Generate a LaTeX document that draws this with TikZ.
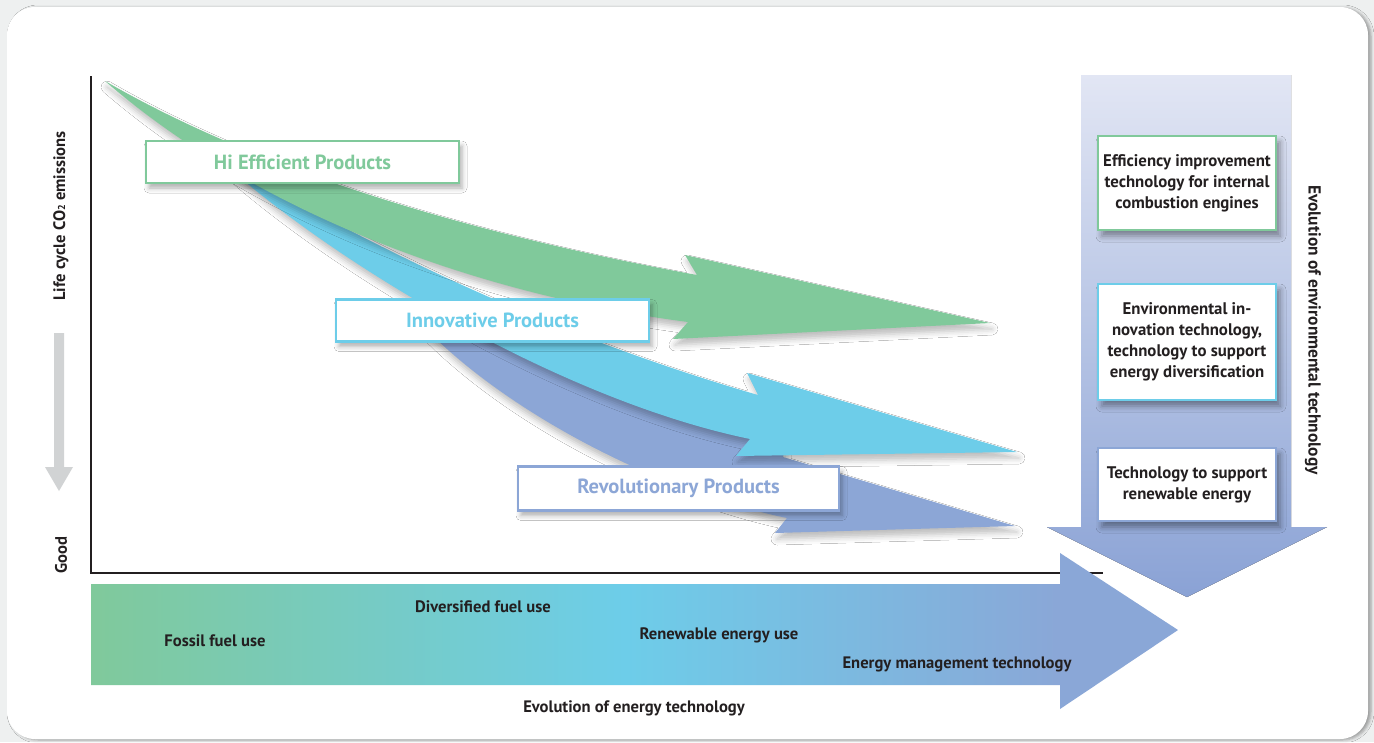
\documentclass[tikz,border=0pt]{standalone}
\usepackage{fontspec}
\setmainfont{PT Sans}
\usetikzlibrary{shadows.blur}

\definecolor{grn}{RGB}{128,201,155}
\definecolor{cyn}{RGB}{109,205,233}
\definecolor{prp}{RGB}{140,166,214}
\definecolor{headblue}{RGB}{138,167,215}
\definecolor{ink}{RGB}{35,31,32}
\definecolor{pagegray}{RGB}{238,240,240}
\definecolor{hintgray}{RGB}{209,211,212}
\definecolor{colTop}{RGB}{226,230,244}
\definecolor{colBot}{RGB}{138,162,213}

% left-to-right colour run of the energy arrow (25bp..75bp spans the path)
\pgfdeclarehorizontalshading{energyflow}{100bp}{%
  color(0bp)=(grn); color(25bp)=(grn); color(49.5bp)=(cyn);
  color(69.5bp)=(headblue); color(100bp)=(headblue)}

\tikzset{
  prodbox/.style={draw=#1, line width=2.5pt, fill=white, text=#1,
    font=\bfseries\fontsize{20.5}{23}\selectfont,
    minimum width=313pt, minimum height=42pt, inner sep=0pt,
    blur shadow={shadow xshift=3pt, shadow yshift=-5pt,
      shadow blur radius=5pt, shadow opacity=32}},
  techbox/.style={draw=#1, line width=2pt, fill=white, text=ink,
    align=center, font=\bfseries\fontsize{16.8}{21}\selectfont,
    minimum width=178pt, inner sep=0pt,
    blur shadow={shadow xshift=4pt, shadow yshift=-6pt,
      shadow blur radius=6pt, shadow opacity=40}},
  lbl/.style={text=ink, font=\bfseries\fontsize{16.6}{19}\selectfont, inner sep=0pt},
  band/.style={blur shadow={shadow xshift=2pt, shadow yshift=-6pt,
      shadow blur radius=6pt, shadow opacity=26}},
}

\begin{document}
\begin{tikzpicture}[x=1pt,y=-1pt]
\useasboundingbox (0,0) rectangle (1374,742);

% page and card
\fill[pagegray] (0,0) rectangle (1374,742);
\fill[white, rounded corners=28pt,
  blur shadow={shadow xshift=3pt, shadow yshift=-1pt,
    shadow blur radius=3pt, shadow opacity=35}]
  (7,7) rectangle (1368,739);

% axes
\draw[ink, line width=2.5pt] (91,76) -- (91,573) -- (1103,573);

% "better" hint arrow on the left
\fill[hintgray] (54,333) -- (64,333) -- (64,467) -- (73,467) -- (59,491)
  -- (45,467) -- (54,467) -- cycle;

% product bands (back to front)
\fill[prp, band]
  (400,300) .. controls (480,330) and (640,390) .. (783,440)
  -- (783,457) -- (1015,526) -- (775,533) -- (787,518)
  .. controls (650,490) and (480,400) .. cycle;
\fill[cyn, band]
  (220,160) .. controls (320,215) and (500,320) .. (758,395)
  -- (747,373) -- (1017,452) -- (736,456) -- (750,439)
  .. controls (560,400) and (330,260) .. cycle;
\fill[grn, band]
  (105,81) .. controls (250,165) and (450,230) .. (697,275)
  -- (685,255) -- (990,323) -- (673,339) -- (688,322)
  .. controls (480,295) and (260,215) .. cycle;

% product labels
\node[prodbox=grn] (hieff) at (302.5,162) {Hi Efficient Products};
\node[prodbox=cyn] (innov) at (492.5,320.5) {Innovative Products};
\node[prodbox=prp, minimum width=321pt, minimum height=44pt] (revol)
  at (678.5,488.5) {Revolutionary Products};

% environmental technology column
\fill[top color=colTop, bottom color=colBot]
  (1081,75) -- (1291,75) -- (1291,527) -- (1327,527) -- (1187,597)
  -- (1047,527) -- (1081,527) -- cycle;

\node[techbox=grn, minimum height=94pt] (eff) at (1187,183)
  {Efficiency improvement\\technology for internal\\combustion engines};
\node[techbox=cyn, minimum height=116pt] (envinn) at (1187,342)
  {Environmental in-\\novation technology,\\technology to support\\energy diversification};
\node[techbox=prp, minimum height=73pt] (renewtech) at (1187,484.5)
  {Technology to support\\renewable energy};

% energy technology arrow
\path[shading=energyflow]
  (91,584) -- (1060,584) -- (1060,553) -- (1178,630) -- (1060,709)
  -- (1060,685) -- (91,685) -- cycle;

% texts
\node[lbl, rotate=90] (ylab) at (61,216)
  {Life cycle CO{\fontsize{10}{10}\selectfont 2} emissions};
\node[lbl, rotate=90] (good) at (61,555) {Good};
\node[lbl, rotate=-90, font=\bfseries\fontsize{17.4}{19}\selectfont] (envlab)
  at (1313,330) {Evolution of environmental technology};
\node[lbl] (fossil) at (215,641) {Fossil fuel use};
\node[lbl] (divers) at (483,607) {Diversified fuel use};
\node[lbl] (renew) at (719,635) {Renewable energy use};
\node[lbl] (emt) at (957,664) {Energy management technology};
\node[lbl] (energylab) at (634,708) {Evolution of energy technology};
\end{tikzpicture}
\end{document}
